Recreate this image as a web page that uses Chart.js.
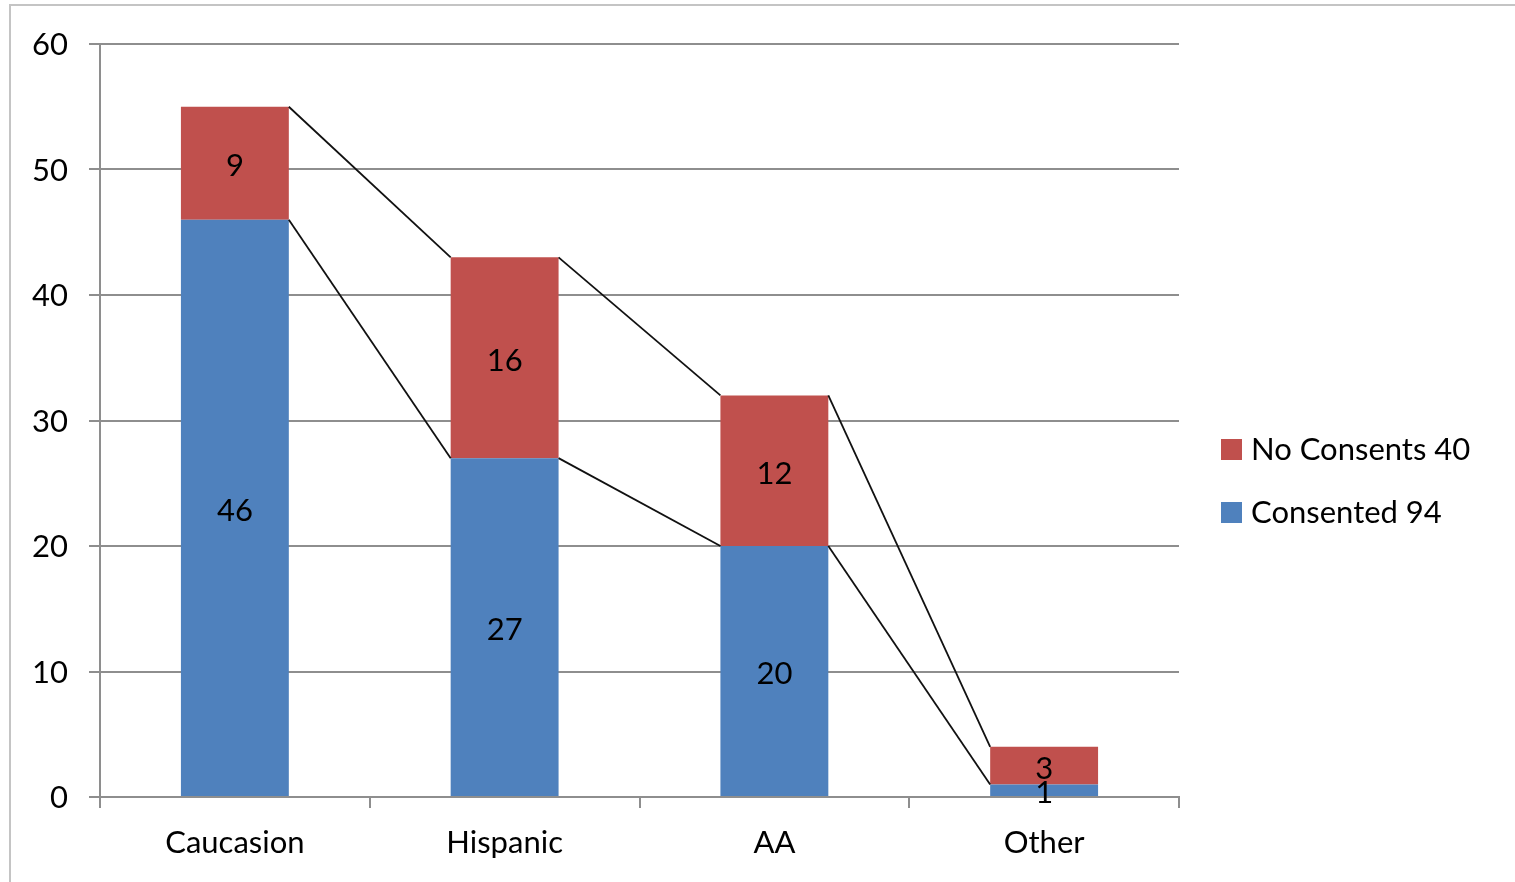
<!DOCTYPE html>
<html>
<head>
<meta charset="utf-8">
<script src="https://cdn.jsdelivr.net/npm/chart.js@4/dist/chart.umd.min.js"></script>
<style>
  html, body { margin: 0; padding: 0; background: #fff; overflow: hidden; }
  #frame {
    position: absolute; left: 9px; top: 4px; width: 1600px; height: 1000px;
    border: 2px solid #c4c4c4; box-sizing: border-box;
  }
  #wrap { position: absolute; left: 0; top: 0; width: 1515px; height: 882px; }
</style>
</head>
<body>
<div id="frame"></div>
<div id="wrap"><canvas id="chart"></canvas></div>
<script>
// chart values
const categories = ['Caucasion', 'Hispanic', 'AA', 'Other'];
const consented = [46, 27, 20, 1];
const noConsents = [9, 16, 12, 3];
const seriesNames = ['Consented 94', 'No Consents 40'];
const yTicks = [0, 10, 20, 30, 40, 50, 60];

const BLUE = '#4f81bd';
const RED = '#c0504d';
const GRID = '#8e8e8e';
const FONT = 'Lato, Calibri, sans-serif';

// black connector lines between the tops of each stacked series
const seriesLines = {
  id: 'seriesLines',
  afterDatasetsDraw(chart) {
    const ctx = chart.ctx;
    ctx.save();
    ctx.strokeStyle = '#111';
    ctx.lineWidth = 1.8;
    chart.data.datasets.forEach((ds, i) => {
      const bars = chart.getDatasetMeta(i).data;
      for (let j = 0; j < bars.length - 1; j++) {
        const a = bars[j], b = bars[j + 1];
        ctx.beginPath();
        ctx.moveTo(a.x + a.width / 2, a.y);
        ctx.lineTo(b.x - b.width / 2, b.y);
        ctx.stroke();
      }
    });
    ctx.restore();
  }
};

// value labels in the middle of each segment
const valueLabels = {
  id: 'valueLabels',
  afterDatasetsDraw(chart) {
    const ctx = chart.ctx;
    ctx.save();
    ctx.font = '31px ' + FONT;
    ctx.fillStyle = '#000';
    ctx.textAlign = 'center';
    ctx.textBaseline = 'middle';
    chart.data.datasets.forEach((ds, i) => {
      chart.getDatasetMeta(i).data.forEach((bar, j) => {
        const mid = (bar.y + bar.base) / 2;
        ctx.fillText(String(ds.data[j]), bar.x, mid + 3);
      });
    });
    ctx.restore();
  }
};

// legend on the right, last series first
const sideLegend = {
  id: 'sideLegend',
  afterDraw(chart) {
    const ctx = chart.ctx;
    const x = chart.chartArea.right + 42;
    const rows = [480 - 31, 480 + 32];
    const sets = chart.data.datasets.slice().reverse();
    ctx.save();
    ctx.font = '31px ' + FONT;
    ctx.textBaseline = 'middle';
    ctx.textAlign = 'left';
    sets.forEach((ds, k) => {
      const cy = rows[k];
      ctx.fillStyle = ds.backgroundColor;
      ctx.fillRect(x, cy - 10, 21, 21);
      ctx.fillStyle = '#000';
      ctx.fillText(ds.label, x + 30, cy + 1);
    });
    ctx.restore();
  }
};

new Chart(document.getElementById('chart'), {
  type: 'bar',
  data: {
    labels: categories,
    datasets: [
      { label: seriesNames[0], data: consented, backgroundColor: BLUE },
      { label: seriesNames[1], data: noConsents, backgroundColor: RED }
    ]
  },
  options: {
    responsive: true,
    maintainAspectRatio: false,
    animation: false,
    categoryPercentage: 1,
    barPercentage: 0.4,
    layout: { padding: { top: 44, right: 336, bottom: 0, left: 0 } },
    plugins: {
      legend: { display: false },
      tooltip: { enabled: false }
    },
    scales: {
      x: {
        stacked: true,
        grid: { offset: true, drawOnChartArea: false, drawTicks: true, tickLength: 11, color: GRID, lineWidth: 2 },
        border: { color: GRID, width: 2 },
        ticks: { color: '#000', font: { family: FONT, size: 31 }, padding: 16 },
        afterFit(scale) { scale.height = 85; }
      },
      y: {
        stacked: true,
        min: 0,
        max: 60,
        afterBuildTicks(scale) { scale.ticks = yTicks.map(v => ({ value: v })); },
        grid: { color: GRID, lineWidth: 2, tickLength: 11 },
        border: { color: GRID, width: 2 },
        ticks: { color: '#000', font: { family: FONT, size: 31 }, padding: 21, labelOffset: 1 },
        afterFit(scale) { scale.width = 100; }
      }
    }
  },
  plugins: [seriesLines, valueLabels, sideLegend]
});
</script>
</body>
</html>
